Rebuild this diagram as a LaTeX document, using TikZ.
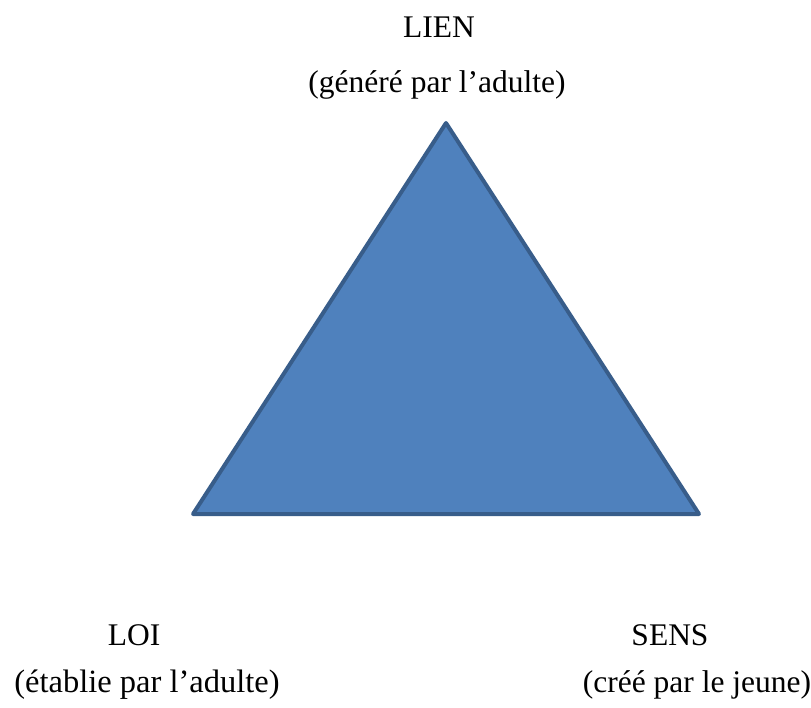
\documentclass[tikz,border=0pt]{standalone}
\usepackage{fontspec}
\setmainfont{Liberation Serif}
\definecolor{triFill}{HTML}{4F81BD}
\definecolor{triLine}{HTML}{385D8A}

\begin{document}
\begin{tikzpicture}[
				x=1pt, y=-1pt,
				label/.style = {anchor=base, inner sep=0pt, font=\fontsize{31.5}{38}\selectfont},
				tri/.style = {fill=triFill, draw=triLine, line width=4pt, line join=round},
			]
			\path[use as bounding box] (0,0) rectangle (811,708);
			\coordinate (apex) at (446,123);
			\coordinate (left) at (193,514);
			\coordinate (right) at (699,514);
			\draw[tri] (apex) -- (left) -- (right) -- cycle;
			\node[label] (lien) at (439,38) {LIEN};
			\node[label] (lienNote) at (437,93) {(généré par l’adulte)};
			\node[label] (loi) at (134,645) {LOI};
			\node[label] (loiNote) at (147,692) {\fontsize{32.5}{38}\selectfont(établie par l’adulte)};
			\node[label] (sens) at (670,645) {SENS};
			\node[label] (sensNote) at (697,692) {(créé par le jeune)};
		\end{tikzpicture}
\end{document}
